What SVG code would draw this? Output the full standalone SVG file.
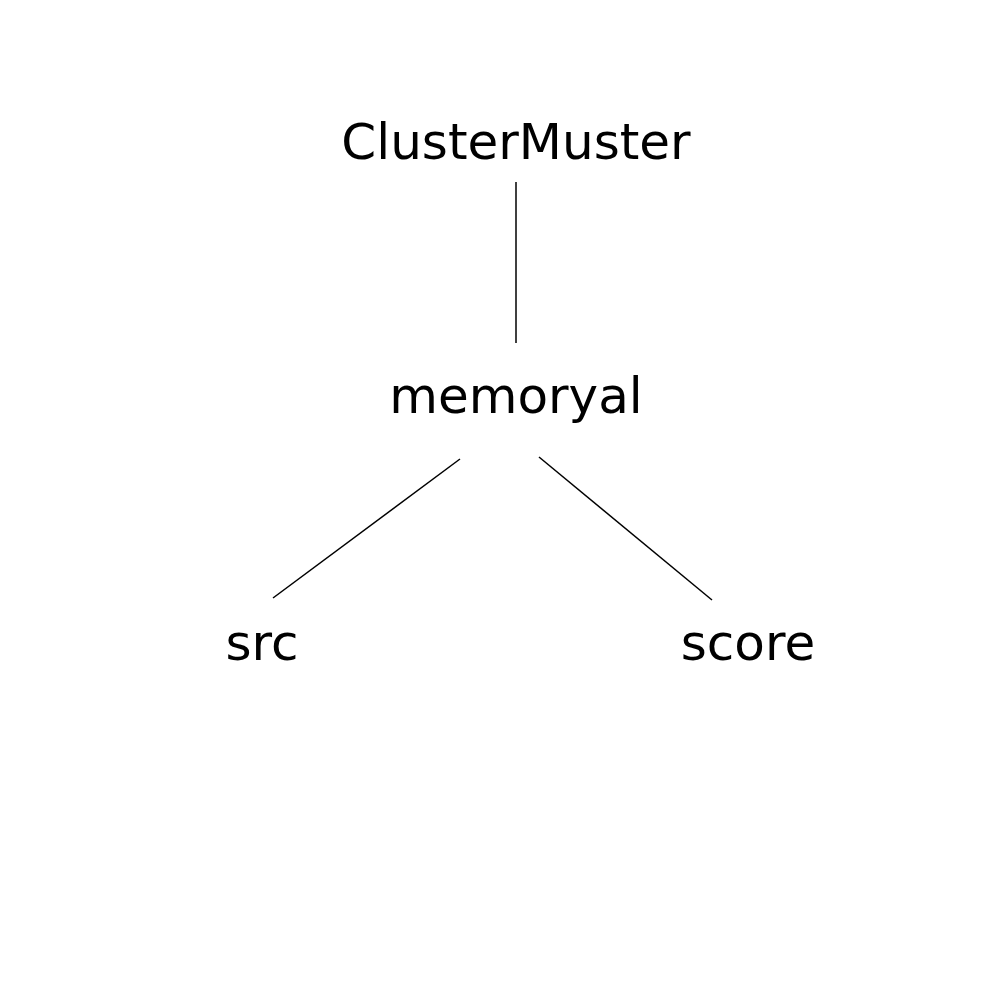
<svg xmlns="http://www.w3.org/2000/svg" width="1000" height="1000" viewBox="0 0 1000 1000">
<style>
.lbl{font-family:"DejaVu Sans",Verdana,sans-serif;font-size:50px;fill:#000;text-anchor:middle}
.edge{stroke:#000;stroke-width:1.5;fill:none}
</style>
<rect width="1000" height="1000" fill="#fff"/>
<g id="connectors">
<line class="edge" x1="516" y1="182" x2="516" y2="343"/>
<line class="edge" x1="460" y1="459" x2="273" y2="598"/>
<line class="edge" x1="539" y1="457" x2="712" y2="600"/>
</g>
<g id="node-clustermuster"><text class="lbl" x="516" y="159">ClusterMuster</text></g>
<g id="node-memoryal"><text class="lbl" x="516" y="413">memoryal</text></g>
<g id="node-src"><text class="lbl" x="262" y="660">src</text></g>
<g id="node-score"><text class="lbl" x="748" y="660">score</text></g>
</svg>
